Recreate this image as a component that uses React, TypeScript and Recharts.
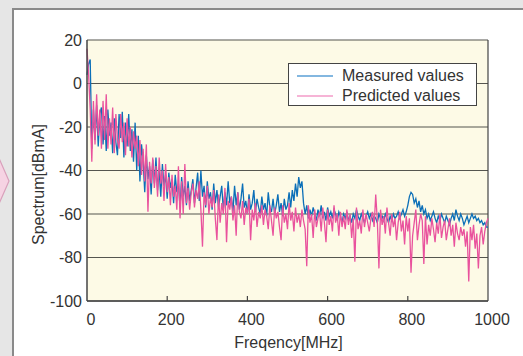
import { LineChart, Line, XAxis, YAxis, CartesianGrid, ReferenceLine } from 'recharts';

// sampled every 4 MHz from 0 to 1000
const FREQ_STEP = 4;

const MEASURED = [
  4, 9, 11, -30, -12, -26, -10, -29, -14, -11,
  -28, -15, -31, -12, -24, -18, -32, -16, -27, -33,
  -14, -25, -13, -34, -18, -29, -14, -31, -21, -36,
  -18, -40, -24, -45, -28, -36, -50, -33, -44, -38,
  -51, -35, -46, -34, -49, -40, -52, -37, -47, -42,
  -53, -41, -48, -44, -55, -42, -50, -46, -57, -43,
  -52, -47, -56, -45, -54, -49, -44, -55, -48, -41,
  -54, -40, -52, -47, -57, -45, -53, -50, -58, -46,
  -55, -49, -57, -52, -47, -58, -50, -56, -45, -55,
  -52, -59, -47, -56, -50, -58, -53, -46, -57, -54,
  -60, -51, -58, -55, -49, -59, -53, -57, -60, -52,
  -58, -55, -61, -50, -57, -59, -53, -60, -56, -51,
  -59, -55, -61, -53, -58, -56, -50, -57, -49, -54,
  -46, -52, -43, -48, -45, -55, -60, -56, -62, -58,
  -61, -57, -60, -63, -58, -61, -56, -62, -59, -63,
  -57, -61, -59, -62, -58, -60, -63, -59, -61, -64,
  -60, -62, -59, -63, -61, -64, -60, -62, -58, -61,
  -63, -60, -62, -64, -61, -59, -62, -60, -63, -61,
  -62, -64, -60, -62, -61, -63, -60, -62, -64, -61,
  -63, -60, -62, -61, -59, -62, -60, -58, -61, -59,
  -56, -52, -50, -51, -55, -53, -57, -54, -59, -56,
  -60, -58, -62, -60, -63, -61, -59, -62, -64, -61,
  -63, -60, -62, -64, -61, -63, -65, -62, -60, -63,
  -58, -61, -63, -60, -62, -65, -63, -61, -64, -62,
  -60, -62, -61, -63, -62, -64, -63, -65, -64, -66,
  -66,
];

const PREDICTED = [
  16, 4, -12, -36, -8, -28, -5, -24, -12, -30,
  -8, -26, -5, -30, -16, -28, -11, -32, -14, -26,
  -30, -14, -27, -18, -33, -16, -29, -20, -34, -22,
  -30, -24, -38, -26, -42, -30, -45, -28, -59, -36,
  -46, -34, -48, -38, -52, -34, -46, -40, -54, -37,
  -50, -43, -56, -42, -52, -47, -58, -38, -62, -45,
  -60, -37, -55, -48, -58, -50, -46, -57, -49, -53,
  -45, -58, -75, -50, -56, -47, -60, -52, -57, -49,
  -62, -72, -51, -64, -55, -60, -48, -73, -54, -58,
  -52, -63, -56, -70, -50, -59, -62, -54, -65, -57,
  -60, -53, -72, -58, -63, -55, -66, -59, -62, -56,
  -65, -58, -61, -67, -56, -63, -70, -57, -62, -59,
  -66, -72, -56, -64, -60, -67, -55, -63, -59, -68,
  -57, -64, -60, -66, -58, -63, -67, -84, -56, -64,
  -60, -71, -58, -66, -62, -59, -68, -57, -64, -73,
  -58, -65, -61, -68, -56, -64, -60, -70, -59, -66,
  -61, -67, -58, -65, -60, -71, -62, -82, -57, -67,
  -63, -69, -58, -66, -60, -64, -68, -62, -59, -66,
  -51, -63, -85, -58, -65, -61, -69, -57, -64, -70,
  -60, -66, -62, -72, -64, -59, -68, -63, -74, -61,
  -68, -62, -87, -70, -64, -58, -72, -65, -60, -63,
  -83, -61, -74, -65, -70, -62, -67, -73, -64, -69,
  -60, -71, -66, -63, -72, -67, -62, -70, -65, -75,
  -64, -69, -72, -66, -70, -67, -75, -68, -91, -66,
  -72, -65, -76, -69, -85, -70, -66, -74, -68, -64,
  -62,
];

const X_TICKS = [0, 200, 400, 600, 800, 1000];
const Y_TICKS = [-100, -80, -60, -40, -20, 0, 20];

const SERIES = [
  { key: 'measured', name: 'Measured values', color: '#0b6fb8', legend: '#5a9fd6' },
  { key: 'predicted', name: 'Predicted values', color: '#e9529d', legend: '#f39bc8' },
];

const data = MEASURED.map((m, i) => ({
  f: i * FREQ_STEP,
  measured: m,
  predicted: PREDICTED[i],
}));

const FONT = '"Liberation Sans", Arial, Helvetica, sans-serif';
const TEXT = '#333';

const XTick = (props: any) => {
  const { x, y, payload } = props;
  const inner = payload.value > 0 && payload.value < 1000;
  return (
    <g>
      {inner && <line x1={x} x2={x} y1={y} y2={y - 5} stroke="#444" strokeWidth={1.2} />}
      <text x={x + 4} y={y + 24} textAnchor="middle" fill={TEXT} fontSize={16}>
        {payload.value}
      </text>
    </g>
  );
};

export default function App() {
  return (
    <div
      style={{
        position: 'absolute',
        left: 0,
        top: 0,
        width: 523,
        height: 356,
        background: '#e6e6e6',
        overflow: 'hidden',
        fontFamily: FONT,
      }}
    >
      <svg width={12} height={356} style={{ position: 'absolute', left: 0, top: 0 }}>
        <polygon points="-2,156 9,181 -2,206" fill="#f6d3e3" stroke="#d9a0bb" strokeWidth={1.2} />
      </svg>
      <div
        style={{
          position: 'absolute',
          left: 12,
          top: 8,
          width: 520,
          height: 360,
          background: '#fff',
          borderLeft: '2px solid #8a8a8a',
          borderTop: '2px solid #8a8a8a',
        }}
      />
      <div style={{ position: 'absolute', left: 0, top: 0 }}>
        <LineChart width={523} height={356} data={data} margin={{ top: 40, right: 35, bottom: 25, left: 27 }}>
          <CartesianGrid vertical={false} fill="#fdfae6" stroke="#55554f" strokeWidth={1.2} />
          <XAxis
            dataKey="f"
            type="number"
            domain={[0, 1000]}
            ticks={X_TICKS}
            height={30}
            tickSize={0}
            tickMargin={0}
            tickLine={false}
            stroke="#444"
            strokeWidth={1.5}
            tick={<XTick />}
            label={{
              content: (p: any) => {
                const vb = p.viewBox;
                return (
                  <text x={vb.x + vb.width / 2 + 1} y={vb.y + 47} textAnchor="middle" fill={TEXT} fontSize={16}>
                    Freqency[MHz]
                  </text>
                );
              },
            }}
          />
          <YAxis
            type="number"
            domain={[-100, 20]}
            ticks={Y_TICKS}
            width={60}
            tickSize={0}
            tickMargin={5}
            tickLine={false}
            stroke="#444"
            strokeWidth={1.5}
            tick={{ fill: TEXT, fontSize: 16 }}
            allowDataOverflow
            label={{
              content: (p: any) => {
                const vb = p.viewBox;
                const cx = vb.x + 11;
                const cy = vb.y + vb.height / 2 + 14;
                return (
                  <text
                    x={cx}
                    y={cy}
                    transform={`rotate(-90 ${cx} ${cy})`}
                    textAnchor="middle"
                    dominantBaseline="central"
                    fill={TEXT}
                    fontSize={16}
                  >
                    Spectrum[dBmA]
                  </text>
                );
              },
            }}
          />
          <ReferenceLine x={1000} stroke="#444" strokeWidth={1.2} />
          {SERIES.map(s => (
            <Line
              key={s.key}
              type="linear"
              dataKey={s.key}
              name={s.name}
              stroke={s.color}
              strokeWidth={1.3}
              dot={false}
              isAnimationActive={false}
            />
          ))}
        </LineChart>
      </div>
      <div
        style={{
          position: 'absolute',
          left: 288,
          top: 63,
          width: 189,
          height: 43,
          boxSizing: 'border-box',
          background: '#fff',
          border: '1px solid #444',
          paddingTop: 2,
        }}
      >
        {SERIES.map(s => (
          <div key={s.key} style={{ display: 'flex', alignItems: 'center', height: 20 }}>
            <svg width={36} height={4} style={{ marginLeft: 8, marginRight: 9 }}>
              <line x1={0} x2={36} y1={2} y2={2} stroke={s.legend} strokeWidth={1.5} />
            </svg>
            <span style={{ fontSize: 16, color: TEXT, lineHeight: '20px' }}>{s.name}</span>
          </div>
        ))}
      </div>
    </div>
  );
}
